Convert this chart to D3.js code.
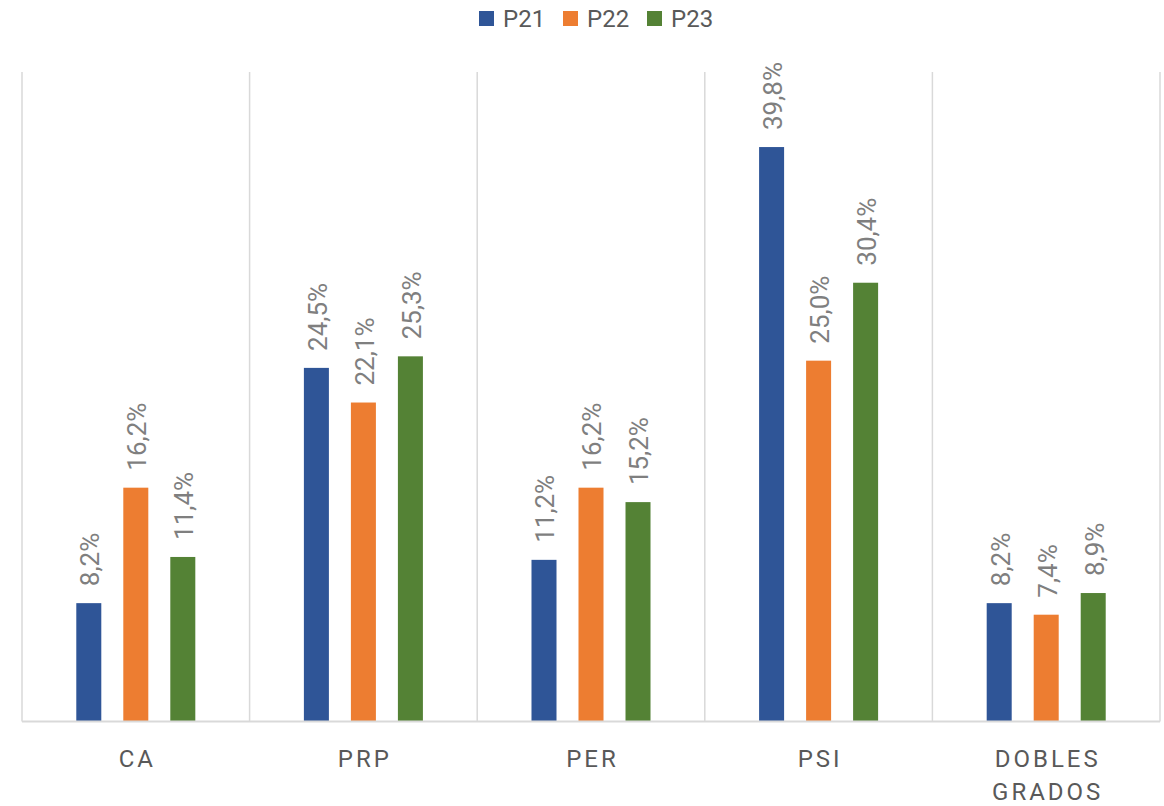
<!DOCTYPE html>
<html>
<head>
<meta charset="utf-8">
<script src="https://cdn.jsdelivr.net/npm/d3@7"></script>
<style>
  html, body { margin: 0; padding: 0; background: #fff; }
  svg { display: block; }
  text { font-family: Roboto, "Open Sans", sans-serif; }
</style>
</head>
<body>
<svg id="chart" width="1164" height="806"></svg>
<script>
const categories = ["CA", "PRP", "PER", "PSI", "DOBLES GRADOS"];
const series = ["P21", "P22", "P23"];
const colors = ["#2F5597", "#ED7D31", "#548235"];
const valuesP21 = [8.2, 24.5, 11.2, 39.8, 8.2];
const valuesP22 = [16.2, 22.1, 16.2, 25.0, 7.4];
const valuesP23 = [11.4, 25.3, 15.2, 30.4, 8.9];
const seriesValues = [valuesP21, valuesP22, valuesP23];
const yDomain = [0, 45];

(function () {
const svg = d3.select("#chart");
const plotLeft = 22, plotRight = 1160, plotTop = 72, plotBottom = 721.5;

const x0 = d3.scaleBand().domain(categories).range([plotLeft, plotRight]).paddingInner(0).paddingOuter(0);
const x1 = d3.scaleBand().domain(series).range([0, x0.bandwidth()]).paddingInner(0.468).paddingOuter(1.155);
const y = d3.scaleLinear().domain(yDomain).range([plotBottom, plotTop]);
const color = d3.scaleOrdinal().domain(series).range(colors);

const gridColor = "#D9D9D9";

// vertical category separators
const bounds = categories.map(c => x0(c)).concat([plotRight]);
svg.append("g").selectAll("line").data(bounds).join("line")
  .attr("x1", d => d).attr("x2", d => d)
  .attr("y1", plotTop).attr("y2", plotBottom)
  .attr("stroke", gridColor).attr("stroke-width", 1.5);

// data
const data = [];
categories.forEach((c, i) => series.forEach((s, j) => data.push({cat: c, ser: s, val: seriesValues[j][i]})));

svg.append("g").selectAll("rect").data(data).join("rect")
  .attr("x", d => x0(d.cat) + x1(d.ser))
  .attr("width", x1.bandwidth())
  .attr("y", d => y(d.val))
  .attr("height", d => plotBottom - y(d.val))
  .attr("fill", d => color(d.ser));

// baseline axis
svg.append("line")
  .attr("x1", plotLeft).attr("x2", plotRight)
  .attr("y1", plotBottom).attr("y2", plotBottom)
  .attr("stroke", gridColor).attr("stroke-width", 2);

// data labels
const fmt = v => d3.format(".1f")(v).replace(".", ",") + "%";
svg.append("g").selectAll("text").data(data).join("text")
  .attr("transform", d => {
    const cx = x0(d.cat) + x1(d.ser) + x1.bandwidth() / 2 + 1;
    const cy = y(d.val) - 17;
    return `translate(${cx},${cy}) rotate(-90)`;
  })
  .attr("dy", "0.36em")
  .attr("text-anchor", "start")
  .attr("font-size", 26)
  .attr("fill", "#7F7F7F")
  .text(d => fmt(d.val));

// category labels
const catG = svg.append("g");
categories.forEach(c => {
  const words = c.split(" ");
  const cx = x0(c) + x0.bandwidth() / 2 + 1.5;
  const t = catG.append("text")
    .attr("x", cx)
    .attr("y", 767)
    .attr("text-anchor", "middle")
    .attr("font-size", 24)
    .attr("letter-spacing", 3)
    .attr("fill", "#595959");
  words.forEach((w, i) => {
    t.append("tspan")
      .attr("x", cx)
      .attr("dy", i === 0 ? 0 : 33)
      .text(w);
  });
});

// legend
const legendX = [479, 563, 647];
const lg = svg.append("g");
series.forEach((s, i) => {
  lg.append("rect")
    .attr("x", legendX[i]).attr("y", 11)
    .attr("width", 15).attr("height", 15)
    .attr("fill", color(s));
  lg.append("text")
    .attr("x", legendX[i] + 24).attr("y", 27)
    .attr("font-size", 24)
    .attr("fill", "#595959")
    .text(s);
});
})();
</script>
</body>
</html>
